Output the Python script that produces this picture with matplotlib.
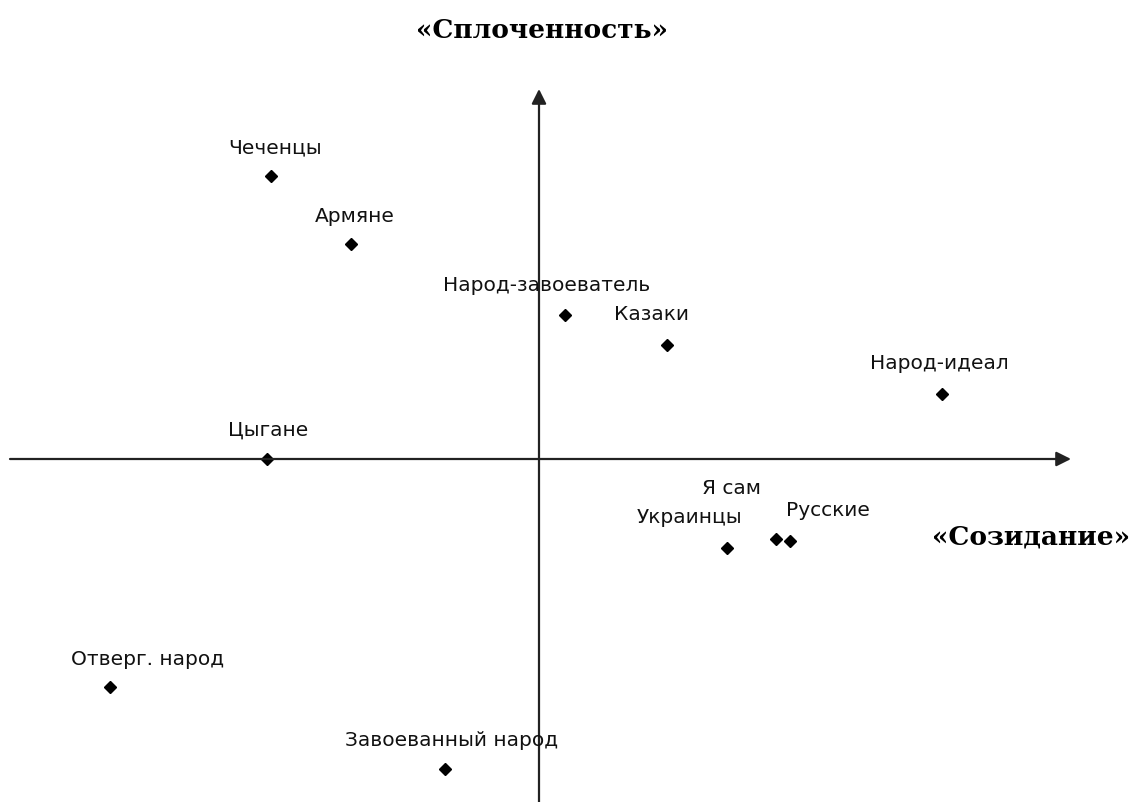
import numpy as np
import matplotlib
matplotlib.use('Agg')
import matplotlib.pyplot as plt

# points on the "Созидание" (x) / "Сплоченность" (y) plane
names = ['Чеченцы', 'Армяне', 'Народ-завоеватель', 'Казаки', 'Народ-идеал',
         'Цыгане', 'Я сам', 'Русские', 'Украинцы', 'Отверг. народ',
         'Завоеванный народ']
xs = [-2.68, -1.88, 0.26, 1.28, 4.03, -2.72, 2.37, 2.51, 1.88, -4.29, -0.94]
ys = [2.83, 2.15, 1.44, 1.14, 0.65, 0.0, -0.80, -0.82, -0.89, -2.28, -3.10]

# label offsets from each point (dx, dy) in data units
offs = [(0.04, 0.29), (0.04, 0.28), (-0.18, 0.30), (-0.15, 0.31), (-0.03, 0.31),
        (0.01, 0.30), (-0.44, 0.51), (0.38, 0.31), (-0.37, 0.31), (0.38, 0.28),
        (0.07, 0.29)]

fig = plt.figure(figsize=(11.37, 8.03), dpi=100)
ax = fig.add_axes([0, 0, 1, 1])
ax.set_xlim(-5.39, 5.98)
ax.set_ylim(-3.43, 4.60)
ax.axis('off')

# axes with arrows
ax.annotate('', xy=(5.32, 0), xytext=(-5.29, 0),
            arrowprops=dict(arrowstyle='-|>', mutation_scale=22, lw=1.6,
                            color='#222222', shrinkA=0, shrinkB=0))
ax.annotate('', xy=(0, 3.70), xytext=(0, -3.43),
            arrowprops=dict(arrowstyle='-|>', mutation_scale=22, lw=1.6,
                            color='#222222', shrinkA=0, shrinkB=0))

ax.plot(xs, ys, linestyle='none', marker='D', markersize=6, color='k')

for n, x, y, (dx, dy) in zip(names, xs, ys, offs):
    ax.text(x + dx, y + dy, n, ha='center', va='center', fontsize=14.5,
            family='DejaVu Sans', color='#111111')

ax.text(0.03, 4.29, '«Сплоченность»', ha='center', va='center', fontsize=19,
        fontweight='bold', family='DejaVu Serif')
ax.text(4.92, -0.77, '«Созидание»', ha='center', va='center', fontsize=19,
        fontweight='bold', family='DejaVu Serif')

fig.savefig('out.png', dpi=100)
